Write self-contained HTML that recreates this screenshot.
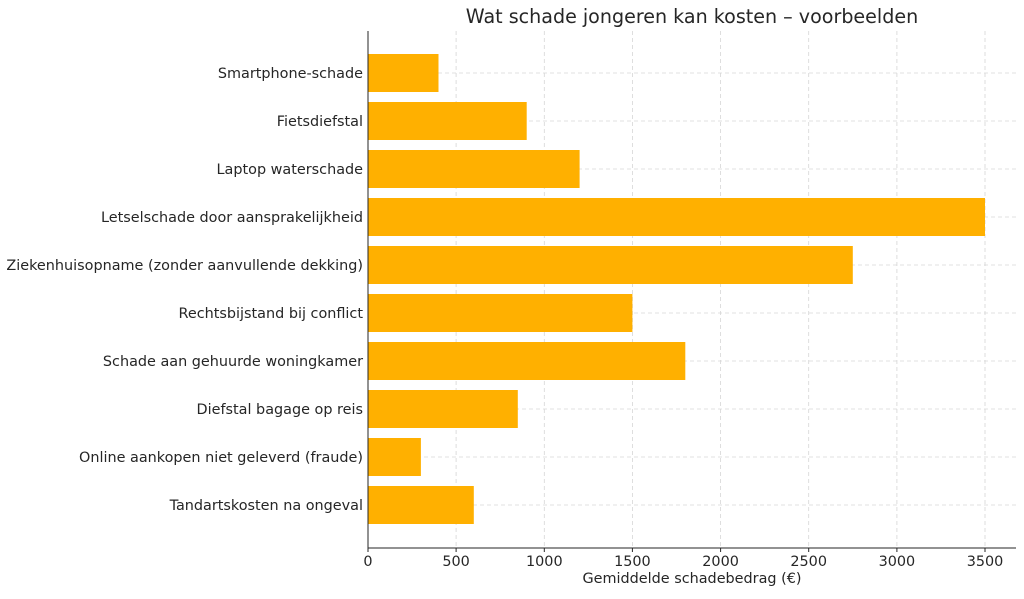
<!DOCTYPE html>
<html><head><meta charset="utf-8"><style>
body{margin:0;background:#fff;}
svg text{font-family:"DejaVu Sans","Liberation Sans",sans-serif;fill:#262626;}
</style></head><body>
<svg width="1024" height="594" viewBox="0 0 1024 594" xmlns="http://www.w3.org/2000/svg">
<rect width="1024" height="594" fill="#fff"/>
<text x="692" y="23" font-size="19.1" text-anchor="middle" fill="#333">Wat schade jongeren kan kosten – voorbeelden</text>
<g stroke="#d6d6d6" stroke-width="0.8" stroke-dasharray="4,3">
<line x1="456.1" y1="31" x2="456.1" y2="548"/><line x1="544.3" y1="31" x2="544.3" y2="548"/>
<line x1="632.4" y1="31" x2="632.4" y2="548"/><line x1="720.6" y1="31" x2="720.6" y2="548"/>
<line x1="808.7" y1="31" x2="808.7" y2="548"/><line x1="896.9" y1="31" x2="896.9" y2="548"/>
<line x1="985" y1="31" x2="985" y2="548"/>
<line x1="368" y1="73" x2="1016" y2="73"/><line x1="368" y1="121" x2="1016" y2="121"/>
<line x1="368" y1="169" x2="1016" y2="169"/><line x1="368" y1="217" x2="1016" y2="217"/>
<line x1="368" y1="265" x2="1016" y2="265"/><line x1="368" y1="313" x2="1016" y2="313"/>
<line x1="368" y1="361" x2="1016" y2="361"/><line x1="368" y1="409" x2="1016" y2="409"/>
<line x1="368" y1="457" x2="1016" y2="457"/><line x1="368" y1="505" x2="1016" y2="505"/>
</g>
<g fill="#FFB000">
<rect x="368" y="54" width="70.5" height="38"/>
<rect x="368" y="102" width="158.7" height="38"/>
<rect x="368" y="150" width="211.6" height="38"/>
<rect x="368" y="198" width="617" height="38"/>
<rect x="368" y="246" width="484.8" height="38"/>
<rect x="368" y="294" width="264.4" height="38"/>
<rect x="368" y="342" width="317.3" height="38"/>
<rect x="368" y="390" width="149.8" height="38"/>
<rect x="368" y="438" width="52.9" height="38"/>
<rect x="368" y="486" width="105.8" height="38"/>
</g>
<g stroke="#262626" stroke-width="1">
<line x1="368" y1="31" x2="368" y2="548"/><line x1="368" y1="548" x2="1016" y2="548"/>
<line x1="368" y1="548" x2="368" y2="552"/><line x1="456.1" y1="548" x2="456.1" y2="552"/>
<line x1="544.3" y1="548" x2="544.3" y2="552"/><line x1="632.4" y1="548" x2="632.4" y2="552"/>
<line x1="720.6" y1="548" x2="720.6" y2="552"/><line x1="808.7" y1="548" x2="808.7" y2="552"/>
<line x1="896.9" y1="548" x2="896.9" y2="552"/><line x1="985" y1="548" x2="985" y2="552"/>
</g>
<g font-size="14.4" text-anchor="end">
<text x="363" y="78">Smartphone-schade</text>
<text x="363" y="126">Fietsdiefstal</text>
<text x="363" y="174">Laptop waterschade</text>
<text x="363" y="222">Letselschade door aansprakelijkheid</text>
<text x="363" y="270">Ziekenhuisopname (zonder aanvullende dekking)</text>
<text x="363" y="318">Rechtsbijstand bij conflict</text>
<text x="363" y="366">Schade aan gehuurde woningkamer</text>
<text x="363" y="414">Diefstal bagage op reis</text>
<text x="363" y="462">Online aankopen niet geleverd (fraude)</text>
<text x="363" y="510">Tandartskosten na ongeval</text>
</g>
<g font-size="14.4" text-anchor="middle">
<text x="368" y="566">0</text><text x="456.1" y="566">500</text><text x="544.3" y="566">1000</text>
<text x="632.4" y="566">1500</text><text x="720.6" y="566">2000</text><text x="808.7" y="566">2500</text>
<text x="896.9" y="566">3000</text><text x="985" y="566">3500</text>
<text x="692" y="583">Gemiddelde schadebedrag (€)</text>
</g>
</svg>
</body></html>
